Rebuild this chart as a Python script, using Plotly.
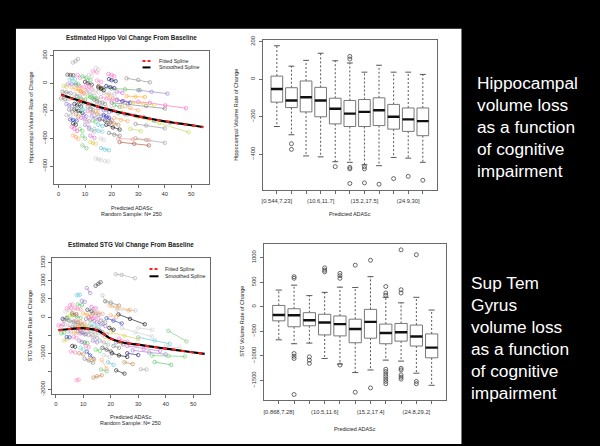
import plotly.graph_objects as go

W, H = 600, 446
FONT = "Liberation Sans, Arial, sans-serif"

# ---------------- data: hippocampus spaghetti plot ----------------
hippo_traj_x = [
    [5.4, 6.5, 7.3], [3.4, 4.5, 5.6], [4.2, 5.0, 6.2], [3.5, 5.0, 6.6], [7.2, 8.0],
    [2.5, 4.0, 5.5], [1.5, 3.0, 4.5], [5.0, 6.5, 8.0], [6.0, 7.5, 9.0], [4.0, 5.2],
    [4.4, 5.5, 6.8], [5.5, 6.5, 7.5], [6.5, 7.5], [8.0, 9.5, 11.0], [9.0, 10.5, 12.0],
    [10.0, 11.0, 12.5], [10.5, 12.0, 13.5], [11.0, 12.5, 14.0], [12.0, 13.0, 14.5], [9.5, 11.0, 12.5],
    [8.5, 10.0, 11.5], [10.0, 11.5], [12.0, 13.0, 14.0], [14.0, 15.0, 16.0], [17.5, 18.7],
    [13.0, 14.5], [14.0, 15.0], [18.75, 20.0, 21.0], [19.0, 20.0, 21.5], [16.0, 20.0, 25.0, 30.6],
    [25.6, 30.0, 34.4], [24.4, 30.0, 34.4, 40.2, 48.0], [20.0, 26.0, 33.0, 40.0], [23.75, 30.0, 38.0, 49.0], [25.6, 29.0, 32.5],
    [29.0, 33.0, 40.0], [29.0, 33.0, 40.0], [23.0, 28.5, 34.0], [22.5, 28.0, 34.0], [15.0, 17.0, 19.0],
    [14.0, 16.0, 18.0], [15.5, 17.5, 19.5], [13.5, 15.0, 16.5], [12.5, 14.0, 15.5], [16.0, 18.0, 20.0],
    [17.0, 19.0, 21.0], [20.0, 22.5, 25.0], [21.0, 23.5, 26.0], [18.0, 20.5, 23.0], [19.0, 21.0, 23.0],
    [22.0, 24.0, 27.0], [24.0, 27.0, 30.0], [26.0, 29.0, 32.0], [11.0, 12.5], [7.0, 8.5, 10.0],
    [6.0, 7.0, 8.5], [3.0, 4.5], [8.0, 9.0], [9.0, 10.5], [16.0, 17.5, 19.0],
    [12.0, 13.5], [30.0, 35.0, 41.0], [28.0, 32.0, 36.0], [10.0, 11.0], [13.0, 14.0, 15.0],
    [14.5, 16.0], [11.5, 12.5], [8.5, 9.5], [18.0, 19.5, 21.0], [21.0, 23.0],
    [1.0, 2.5], [5.0, 6.0, 7.0], [36.0, 42.0], [27.0, 31.0], [7.5, 8.5, 9.5],
    [11.0, 12.0, 13.0], [13.0, 14.5, 16.0], [15.0, 16.5], [9.0, 10.0, 11.0], [17.0, 18.5, 20.0],
    [6.0, 7.0, 8.0], [7.5, 8.5], [8.0, 9.0, 10.0], [9.5, 10.5], [10.5, 11.5, 12.5],
    [12.0, 13.0], [13.5, 14.5, 15.5], [14.0, 15.0], [15.0, 16.0, 17.0], [16.5, 17.5],
    [17.0, 18.0, 19.0], [18.5, 19.5], [19.5, 21.0, 22.5], [20.5, 22.0], [6.5, 7.5],
    [5.5, 6.5], [11.5, 12.5, 13.5], [13.0, 14.0], [9.0, 10.0], [15.0, 16.5],
    [22.0, 24.0], [3.0, 4.0, 5.0], [2.0, 3.0], [16.0, 17.0], [19.0, 20.5],
]
hippo_traj_y = [
    [150, 160, 176], [62, 60, 58], [25, 28, 30], [-8, -5, -10], [60, 40],
    [-120, -115, -110], [-60, -65, -72], [-30, -42, -55], [-190, -200, -215], [-190, -205],
    [-262, -265, -270], [-378, -390, -402], [-225, -240], [-20, -30, -45], [50, 40, 25],
    [10, 0, -10], [-60, -75, -90], [-95, -105, -110], [-100, -108, -112], [-140, -150, -165],
    [-250, -260, -275], [-300, -320], [-426, -432, -438], [-545, -550, -557], [-564, -566],
    [86, 80], [110, 100], [67, 60, 50], [30, 22, 15], [-33, -38, -44, -50],
    [36, 24, 7], [-128, -135, -142, -160, -181], [-140, -152, -165, -183], [-212, -245, -290, -355], [-93, -97, -100],
    [-295, -305, -326], [-398, -410, -431], [-426, -438, -450], [-400, -405, -412], [-180, -195, -210],
    [-160, -170, -185], [-260, -270, -285], [-330, -345, -350], [-240, -250, -262], [-100, -112, -125],
    [-70, -75, -80], [-200, -215, -225], [-250, -265, -275], [-300, -320, -335], [-360, -372, -380],
    [-120, -130, -140], [-170, -180, -195], [-225, -235, -245], [-200, -215], [-100, -110, -120],
    [-150, -160, -170], [-230, -235], [-330, -345], [-450, -470], [-470, -480, -485],
    [-380, -395], [-50, -62, -75], [-140, -148, -157], [-270, -280], [-50, -60, -65],
    [20, 10], [60, 55], [-60, -75], [-20, -28, -35], [-160, -170],
    [-110, -112], [-315, -330, -345], [-270, -285], [-330, -345], [-40, -55, -70],
    [-170, -185, -195], [-210, -222, -235], [-20, -35], [-120, -135, -150], [-240, -255, -268],
    [-80, -90, -95], [-130, -140], [-180, -190, -200], [-230, -240], [-10, -25, -40],
    [-150, -160], [-120, -130, -140], [-200, -210], [-30, -40, -50], [-140, -150],
    [-230, -240, -250], [-90, -100], [-280, -290, -300], [-110, -120], [0, -10],
    [-290, -300], [-330, -340, -350], [-270, -280], [-380, -400], [-300, -310],
    [-60, -70], [-150, -160, -165], [-20, -25], [-400, -410], [-170, -180],
]
hippo_spline_x = [1, 5, 10, 15, 20, 25, 30, 35, 40, 45, 50, 54.5]
hippo_fitted_y = [-84, -110, -141, -168, -193, -217, -239, -258, -275, -291, -305, -317]
hippo_smooth_y = [-82, -108, -140, -170, -196, -219, -240, -259, -276, -290, -304, -318]

# ---------------- data: hippocampus box plot ----------------
hippo_box_labels = ["[0.544,7.23]", "", "", "(10.6,11.7]", "", "", "(15.2,17.5]", "", "", "(24.9,30]", ""]
hippo_q1 = [-122, -151, -174, -200, -238, -252, -252, -247, -266, -278, -301]
hippo_med = [-52, -113, -96, -113, -157, -183, -174, -165, -200, -214, -223]
hippo_q3 = [17, -45, -9, -43, -101, -113, -108, -99, -134, -153, -153]
hippo_lo = [-252, -296, -409, -414, -440, -443, -456, -461, -417, -421, -443]
hippo_hi = [179, 70, 101, 139, 99, 87, 38, 75, 38, 38, 26]
hippo_out = [[], [-344, -374], [], [], [-466], [122, 108, -470, -478, -556],
             [-466, -478, -553], [-560], [-530], [-518], [-539]]

# ---------------- data: STG spaghetti plot ----------------
stg_traj_x = [
    [21.8, 24.0, 28.8], [14.5, 15.5, 16.3], [7.6, 8.2, 8.8], [11.3, 12.5], [5.2, 6.0],
    [17.0, 18.0, 20.5, 22.3, 26.5, 29.0], [18.0, 20.0, 23.0], [19.5, 22.5, 27.0], [22.8, 27.0, 32.4], [13.5, 15.5],
    [11.3, 12.5, 13.7], [16.7, 18.5], [13.7, 15.0, 16.7], [7.6, 8.3], [36.0, 42.0],
    [22.0, 25.0], [31.0, 33.0], [35.0, 41.0, 47.0], [41.0, 47.6], [30.0, 36.0, 41.5],
    [26.0, 32.0, 38.0], [28.0, 34.0, 40.0], [20.0, 25.0, 30.0], [24.0, 29.0, 35.0], [3.5, 5.0, 6.5],
    [4.0, 5.5], [2.0, 3.5, 5.0], [1.0, 2.5], [2.5, 4.0], [6.0, 7.5, 9.0],
    [5.0, 6.5, 8.0], [7.0, 8.5, 10.0], [8.0, 9.5, 11.0], [9.0, 10.5, 12.0], [10.0, 11.5, 13.0],
    [11.0, 12.5, 14.0], [12.0, 13.5, 15.0], [13.0, 14.5, 16.0], [14.0, 15.5, 17.0], [15.0, 16.5, 18.0],
    [16.0, 17.5, 19.0], [17.0, 18.5, 20.0], [9.0, 10.0], [8.5, 9.5, 10.5], [6.5, 7.5],
    [4.5, 5.5], [10.5, 12.0, 13.5], [12.5, 14.0], [20.5, 23.0, 26.0], [22.0, 24.5],
    [18.5, 21.0, 24.0], [20.0, 22.0], [25.0, 28.0], [7.0, 8.0, 9.0], [8.0, 9.5],
    [6.0, 7.0], [11.5, 13.0, 14.5], [14.5, 16.0], [16.5, 18.5], [19.0, 21.0],
    [13.0, 14.5], [9.5, 10.5], [3.0, 4.0], [30.0, 35.0], [40.0, 45.0],
    [5.5, 7.0], [17.5, 19.5], [23.0, 26.0, 29.0], [26.0, 30.0], [10.5, 11.5],
    [6.5, 8.0, 9.5], [12.0, 13.5], [15.5, 17.0, 18.5], [4.0, 5.0, 6.0], [8.0, 9.0, 10.0],
    [3.0, 4.5], [5.0, 6.0, 7.0], [6.0, 7.5], [7.5, 9.0, 10.5], [9.0, 10.5],
    [10.5, 12.0], [11.5, 13.0], [12.5, 14.0, 15.5], [13.5, 15.0], [14.0, 15.5],
    [15.5, 17.0], [16.5, 18.0], [18.0, 19.5], [19.5, 21.0], [21.0, 23.0],
    [4.0, 5.0], [6.5, 7.5], [8.5, 10.0], [11.0, 12.0], [2.0, 3.0],
]
stg_traj_y = [
    [1182, 1164, 1073], [864, 920, 964], [600, 610, 618], [800, 664], [327, 345],
    [600, 436, 300, 210, 180, 180], [436, 400, 318], [320, 280, 200], [73, -50, -200], [100, 60],
    [-955, -1060, -1155], [-1182, -1427], [-1673, -1640, -1609], [-1745, -1730], [-1245, -1318],
    [-1473, -1564], [-1445, -1450], [-1064, -1075, -1090], [-380, -673], [-560, -650, -740],
    [-800, -880, -940], [-920, -980, -1030], [-420, -520, -610], [-300, -420, -540], [150, 180, 200],
    [240, 260], [-250, -220, -200], [-230, -210], [-50, -30], [50, 20, -20],
    [-100, -120, -140], [-300, -330, -350], [-400, -430, -470], [-200, -230, -260], [100, 60, 30],
    [-50, -80, -110], [-500, -540, -580], [-300, -340, -380], [150, 120, 90], [-150, -200, -250],
    [-650, -700, -760], [-850, -900, -950], [-850, -900], [-650, -690, -720], [-550, -580],
    [-400, -420], [-1150, -1200, -1260], [-1150, -1180], [-1000, -1060, -1100], [-700, -760],
    [-30, -100, -180], [50, 0], [-1250, -1300], [250, 230, 210], [350, 330],
    [-800, -820], [-400, -430, -460], [-900, -940], [-1450, -1500], [-1250, -1320],
    [280, 240], [450, 420], [-650, -620], [-300, -350], [-800, -850],
    [-950, -980], [-1050, -1100], [-600, -680, -760], [-1000, -1050], [-700, -720],
    [-150, -180, -220], [0, -40], [-350, -420, -480], [0, 30, 60], [-250, -280, -300],
    [-100, -80], [-300, -280, -260], [100, 80], [-100, -130, -170], [-450, -480],
    [-300, -330], [200, 160], [-200, -240, -280], [-650, -700], [0, -40],
    [-450, -500], [-100, -150], [-550, -600], [-300, -350], [-800, -850],
    [-550, -560], [-420, -450], [-1000, -1030], [-800, -830], [-450, -430],
]
stg_spline_x = [1, 5, 9.4, 12.5, 15.5, 20.3, 25.2, 30, 34.9, 40.9, 47, 54.2]
stg_fitted_y = [-370, -330, -305, -325, -385, -600, -715, -765, -818, -880, -946, -1018]
stg_smooth_y = [-364, -330, -309, -330, -382, -609, -718, -764, -818, -882, -945, -1018]

# ---------------- data: STG box plot ----------------
stg_box_labels = ["[0.868,7.28]", "", "", "(10.5,11.6]", "", "", "(15.2,17.4]", "", "", "(24.8,29.2]", ""]
stg_q1 = [-287, -407, -387, -573, -593, -733, -640, -753, -700, -800, -1040]
stg_med = [-167, -173, -273, -320, -353, -453, -307, -533, -520, -607, -833]
stg_q3 = [27, -40, -120, -153, -187, -253, -53, -353, -340, -373, -553]
stg_lo = [-673, -753, -740, -1053, -1167, -1340, -1287, -1087, -1107, -1353, -1600]
stg_hi = [340, 440, 227, 293, 400, 393, 613, 193, 80, 193, -67]
stg_out = [[], [613, 580, -953, -1007, -1053, -1787], [-1020, -1087, -1153], [793, 747, 713],
           [680, 633, 580, -1187], [847, -1740], [947, -1653],
           [413, 280, 233, -1273, -1320, -1373, -1420, -1473, -1520, -1567],
           [1160, 347, 280, -1253, -1287, -1387, -1433, -1473], [1060, -1520, -1567], []]

hippo_text = ["Hippocampal", "volume loss", "as a function", "of cognitive", "impairment"]
stg_text = ["Sup Tem", "Gyrus", "volume loss", "as a function", "of cognitive", "impairment"]

# ---------------- styles ----------------
PAL = ["#b0b0b0", "#555555", "#7fd4dc", "#a88ad8", "#ff8cd0", "#c4c4c4", "#909090", "#ffb868",
       "#222222", "#8a8a8a", "#4050c0", "#ffb070", "#c89060", "#ff90c0", "#60c870", "#333333",
       "#b4b4b4", "#70d870", "#80c888", "#70c8d8", "#d878d8", "#a088d8", "#e0d060", "#d0d0d0",
       "#d4d4d4", "#ff8cc8", "#d0d0d0", "#ff7cc8", "#303880", "#70c070", "#9a9a9a", "#ff70d0",
       "#8a8a8a", "#c0e060", "#ffb040", "#9a9a9a", "#a8a8a8", "#b06050", "#f0a090", "#a080d0"]


def px_x(p):
    return p / W


def px_y(p):
    return 1 - p / H


fig = go.Figure()

axis_common = dict(showline=True, linecolor="#6a6a6a", linewidth=1, mirror=True,
                   ticks="outside", ticklen=3, tickcolor="#6a6a6a", tickwidth=1,
                   showgrid=False, zeroline=False,
                   tickfont=dict(family=FONT, size=5.8, color="#333"))


def add_spaghetti(tx, ty, xa, ya):
    for i, (xs, ys) in enumerate(zip(tx, ty)):
        c = PAL[i % len(PAL)]
        fig.add_trace(go.Scatter(x=xs, y=ys, mode="lines+markers", xaxis=xa, yaxis=ya,
                                 line=dict(color=c, width=0.7),
                                 marker=dict(symbol="circle-open", size=3.5, color=c, line=dict(width=0.7)),
                                 showlegend=False, hoverinfo="skip"))


def add_splines(sx, fy, sy, xa, ya):
    fig.add_trace(go.Scatter(x=sx, y=sy, mode="lines", xaxis=xa, yaxis=ya, line_shape="spline",
                             line=dict(color="#000", width=2.2), showlegend=False))
    fig.add_trace(go.Scatter(x=sx, y=fy, mode="lines", xaxis=xa, yaxis=ya, line_shape="spline",
                             line=dict(color="#ff2020", width=2, dash="4px,5px"), showlegend=False))


def add_boxes(q1, med, q3, lo, hi, outl, xa, ya):
    pos = list(range(1, len(q1) + 1))
    rx, ry, wx, wy, sx_, sy_, mx, my, ox, oy = [], [], [], [], [], [], [], [], [], []
    for p, a, m, b, l, h, o in zip(pos, q1, med, q3, lo, hi, outl):
        rx += [p - 0.4, p + 0.4, p + 0.4, p - 0.4, p - 0.4, None]
        ry += [a, a, b, b, a, None]
        wx += [p, p, None, p, p, None]
        wy += [b, h, None, a, l, None]
        sx_ += [p - 0.2, p + 0.2, None, p - 0.2, p + 0.2, None]
        sy_ += [h, h, None, l, l, None]
        mx += [p - 0.4, p + 0.4, None]
        my += [m, m, None]
        ox += [p] * len(o)
        oy += o
    fig.add_trace(go.Scatter(x=wx, y=wy, mode="lines", xaxis=xa, yaxis=ya,
                             line=dict(color="#444", width=0.9, dash="2px,2px"), showlegend=False))
    fig.add_trace(go.Scatter(x=sx_, y=sy_, mode="lines", xaxis=xa, yaxis=ya,
                             line=dict(color="#444", width=0.9), showlegend=False))
    fig.add_trace(go.Scatter(x=rx, y=ry, mode="lines", xaxis=xa, yaxis=ya, fill="toself",
                             fillcolor="white", line=dict(color="#777", width=1), showlegend=False))
    fig.add_trace(go.Scatter(x=mx, y=my, mode="lines", xaxis=xa, yaxis=ya,
                             line=dict(color="#111", width=2.4), showlegend=False))
    fig.add_trace(go.Scatter(x=ox, y=oy, mode="markers", xaxis=xa, yaxis=ya,
                             marker=dict(symbol="circle-open", size=4, color="#444", line=dict(width=0.8)),
                             showlegend=False))


add_spaghetti(hippo_traj_x, hippo_traj_y, "x", "y")
add_splines(hippo_spline_x, hippo_fitted_y, hippo_smooth_y, "x", "y")
add_boxes(hippo_q1, hippo_med, hippo_q3, hippo_lo, hippo_hi, hippo_out, "x2", "y2")
add_spaghetti(stg_traj_x, stg_traj_y, "x3", "y3")
add_splines(stg_spline_x, stg_fitted_y, stg_smooth_y, "x3", "y3")
add_boxes(stg_q1, stg_med, stg_q3, stg_lo, stg_hi, stg_out, "x4", "y4")


def box_range(lo, hi, outl):
    vals = lo + hi + [v for o in outl for v in o]
    mn, mx = min(vals), max(vals)
    pad = 0.04 * (mx - mn)
    return [mn - pad, mx + pad]


n_box = len(hippo_q1)
fig.update_layout(
    width=W, height=H, margin=dict(l=0, r=0, t=0, b=0, pad=0),
    paper_bgcolor="black", plot_bgcolor="white", showlegend=False,
    xaxis=dict(axis_common, domain=[px_x(52), px_x(207.3)], anchor="y", range=[-1.76, 56.5],
               tickvals=[0, 10, 20, 30, 40, 50], ticklabelstandoff=1),
    yaxis=dict(axis_common, domain=[px_y(182.7), px_y(47.3)], anchor="x", range=[-731, 236],
               tickvals=[-600, -400, -200, 0, 200], tickangle=-90, ticklabelstandoff=1),
    xaxis2=dict(axis_common, domain=[px_x(262), px_x(436)], anchor="y2", range=[0.06, n_box + 0.94],
                tickvals=list(range(1, n_box + 1)), ticktext=hippo_box_labels, ticklabelstandoff=2),
    yaxis2=dict(axis_common, domain=[px_y(188.3), px_y(36.7)], anchor="x2",
                range=box_range(hippo_lo, hippo_hi, hippo_out),
                tickvals=[-400, -200, 0, 200], tickangle=-90, ticklabelstandoff=2),
    xaxis3=dict(axis_common, domain=[px_x(50), px_x(208.3)], anchor="y3", range=[-1.45, 56.0],
                tickvals=[0, 10, 20, 30, 40, 50], ticklabelstandoff=1),
    yaxis3=dict(axis_common, domain=[px_y(395), px_y(257.3)], anchor="x3", range=[-2118, 1636],
                tickvals=[-2000, -1500, -1000, -500, 0, 500, 1000, 1500],
                ticktext=["-2000", "", "-1000", "", "0", "500", "1000", "1500"],
                tickangle=-90, ticklabelstandoff=1),
    xaxis4=dict(axis_common, domain=[px_x(263.3), px_x(445.5)], anchor="y4", range=[0.06, n_box + 0.94],
                tickvals=list(range(1, n_box + 1)), ticktext=stg_box_labels, ticklabelstandoff=3),
    yaxis4=dict(axis_common, domain=[px_y(401.7), px_y(243.3)], anchor="x4",
                range=box_range(stg_lo, stg_hi, stg_out),
                tickvals=[-1500, -1000, -500, 0, 500, 1000], tickangle=-90, ticklabelstandoff=2),
)

shapes = [dict(type="rect", xref="paper", yref="paper", x0=px_x(14), x1=px_x(461), y0=0, y1=px_y(25),
               fillcolor="white", line=dict(width=0), layer="below")]
ann = []


def txt(x, y, s, size, bold=False, angle=0, color="#222", xanchor="center", yanchor="middle"):
    ann.append(dict(x=px_x(x), y=px_y(y), xref="paper", yref="paper", text=("<b>%s</b>" % s) if bold else s,
                    showarrow=False, textangle=angle, xanchor=xanchor, yanchor=yanchor,
                    font=dict(family=FONT, size=size, color=color)))


# panel 1
txt(130, 34, "Estimated Hippo Vol Change From Baseline", 6.3, bold=True)
txt(30, 115, "Hippocampal Volume Rate of Change", 5.5, angle=-90)
txt(130, 206.7, "Predicted ADASc", 5.4)
txt(130, 212.6, "Random Sample: N= 250", 5.4)
# panel 2
txt(235, 112, "Hippocampal Volume Rate of Change", 5.5, angle=-90)
txt(349, 213, "Predicted ADASc", 5.4)
# panel 3
txt(129.3, 244, "Estimated STG Vol Change From Baseline", 6.3, bold=True)
txt(27.7, 326, "STG Volume Rate of Change", 5.5, angle=-90)
txt(129.3, 419, "Predicted ADASc", 5.4)
txt(129.3, 425, "Random Sample: N= 250", 5.4)
# panel 4
txt(240, 322, "STG Volume Rate of Change", 5.5, angle=-90)
txt(354.5, 430.7, "Predicted ADASc", 5.4)

# legends
for (lx0, lx1, ly1, ly2, tx) in [(141, 149, 57.7, 64.3, 156), (148, 157, 268.7, 276, 162)]:
    shapes.append(dict(type="line", xref="paper", yref="paper", x0=px_x(lx0), x1=px_x(lx1),
                       y0=px_y(ly1), y1=px_y(ly1), line=dict(color="#ff2020", width=2, dash="3px,2px")))
    shapes.append(dict(type="line", xref="paper", yref="paper", x0=px_x(lx0), x1=px_x(lx1),
                       y0=px_y(ly2), y1=px_y(ly2), line=dict(color="#000", width=2)))
    txt(tx, ly1, "Fitted Spline", 5.3, xanchor="left")
    txt(tx, ly2, "Smoothed Spline", 5.3, xanchor="left")

# right-hand text
for i, s in enumerate(hippo_text):
    txt(475, 80.5 + 22.3 * i, s, 17.3, color="white", xanchor="left")
for i, s in enumerate(stg_text):
    txt(469, 282.5 + 22.3 * i, s, 17.3, color="white", xanchor="left")

fig.update_layout(shapes=shapes, annotations=ann)
fig.write_html("out.html", config={"displayModeBar": False},
               post_script="document.body.style.margin='0';document.body.style.background='black';")
